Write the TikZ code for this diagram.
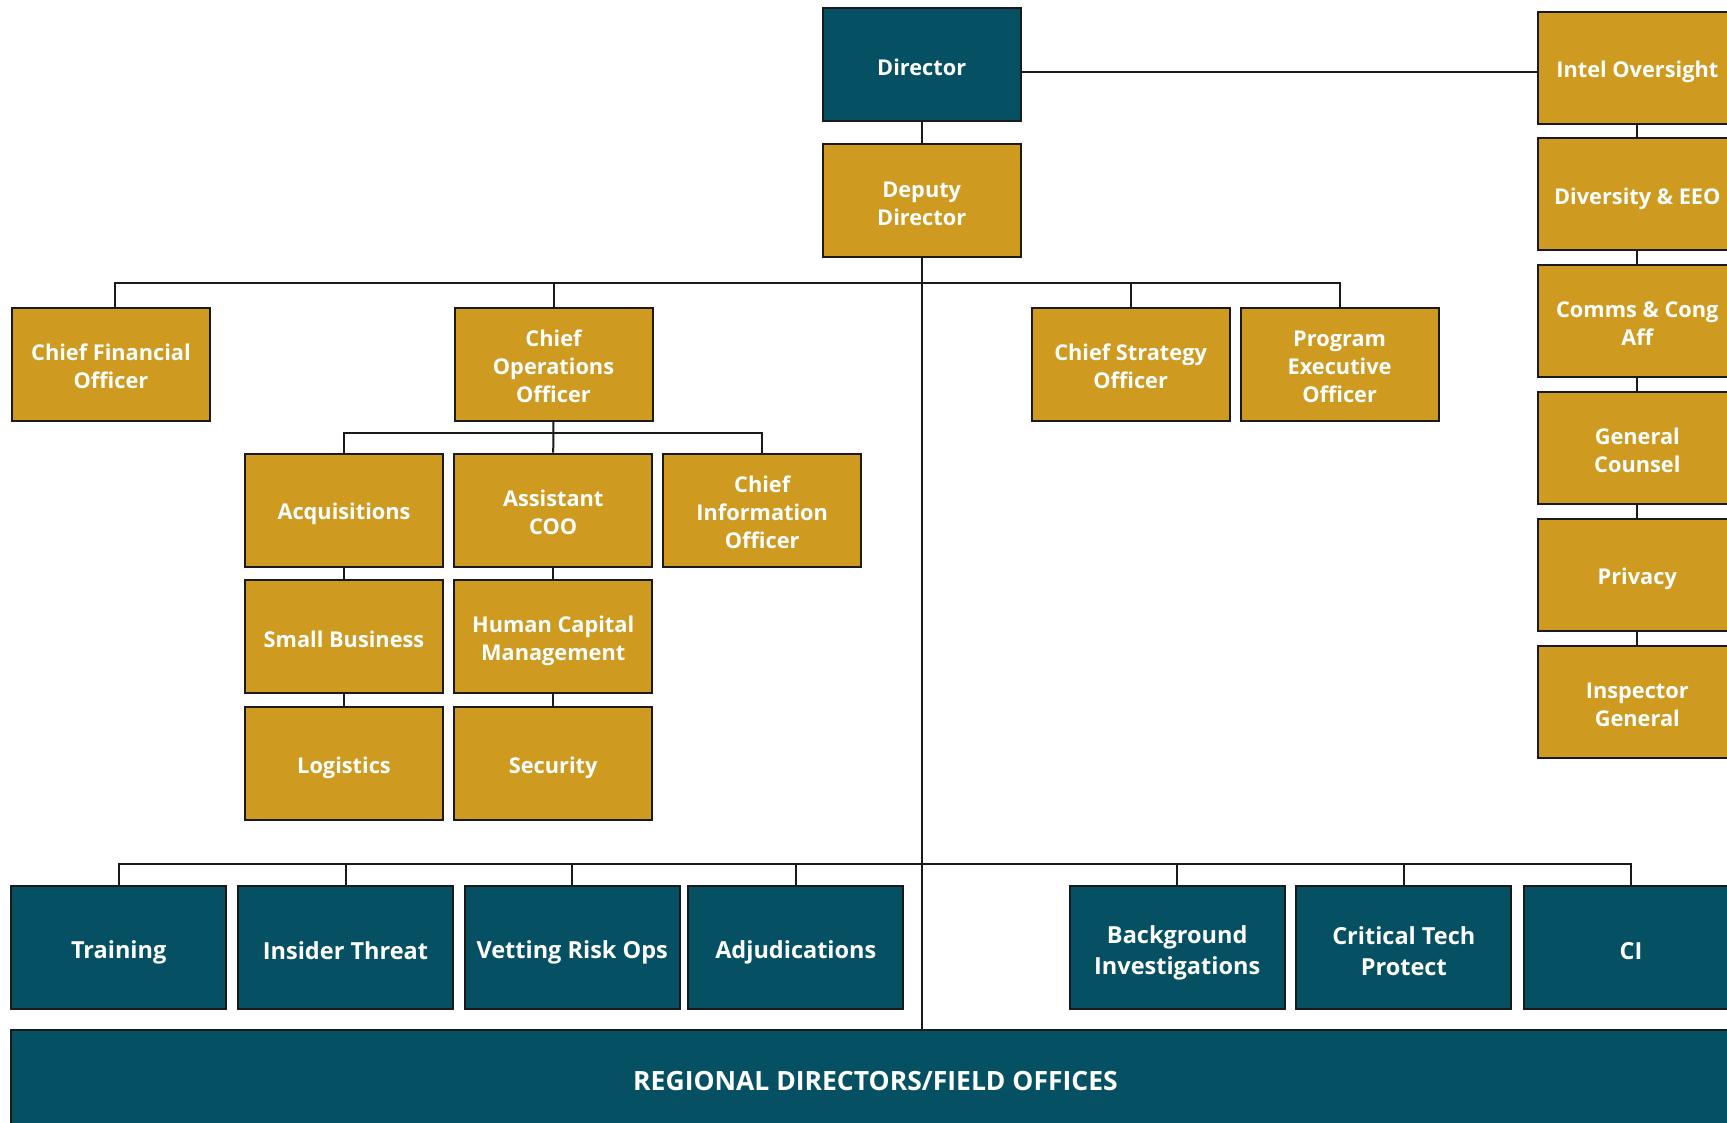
\documentclass[tikz,border=0pt]{standalone}
\usepackage{fontspec}
\setmainfont{Open Sans}
\definecolor{teal}{HTML}{055163}
\definecolor{gold}{HTML}{CF9A20}
\definecolor{edge}{HTML}{1A1A1A}
% invisible rules: height on the first line, depth on the last line,
% so one- and multi-line labels share the same optical centre
\newcommand{\uppertext}[1]{\rule{0pt}{9.85pt}#1\rule[-1.35pt]{0pt}{1.35pt}}
\newcommand{\unittext}[1]{\rule{0pt}{11.05pt}#1\rule[-1.25pt]{0pt}{1.25pt}}
\begin{document}
\begin{tikzpicture}[x=0.4pt,y=-0.4pt,
  box/.style={draw=edge, line width=0.8pt, text=white, align=center, inner sep=0pt},
  upper/.style={box, font=\fontsize{8.7}{11.2}\selectfont\bfseries},
  goldbox/.style={upper, fill=gold, minimum width=79.2pt, minimum height=45.2pt},
  tealbox/.style={upper, fill=teal, minimum width=79.2pt, minimum height=45.2pt},
  sidebox/.style={upper, fill=gold, minimum width=79.2pt, minimum height=44.8pt},
  unitbox/.style={box, fill=teal, minimum width=86pt, minimum height=49.2pt,
    font=\fontsize{9.4}{12.3}\selectfont\bfseries},
  link/.style={draw=edge, line width=0.8pt}]
\useasboundingbox (0,0) rectangle (1727,1122);
\clip (0,0) rectangle (1727,1122);
\fill[white] (0,0) rectangle (1727,1122);

% front office
\node[tealbox] (dir) at (921.7,64.7) {\uppertext{Director}};
\node[goldbox] (dep) at (921.7,200.4) {\uppertext{Deputy\\Director}};

% chiefs
\node[goldbox] (cfo) at (111,364) {\uppertext{Chief Financial\\Officer}};
\node[goldbox] (coo) at (553.5,364) {\uppertext{Chief\\Operations\\Officer}};
\node[goldbox] (cso) at (1130.6,364) {\uppertext{Chief Strategy\\Officer}};
\node[goldbox] (peo) at (1339.6,364) {\uppertext{Program\\Executive\\Officer}};

% operations
\node[goldbox] (acq) at (344,510.2) {\uppertext{Acquisitions}};
\node[goldbox] (acoo) at (553.2,510.2) {\uppertext{Assistant\\COO}};
\node[goldbox] (cio) at (762.2,510.2) {\uppertext{Chief\\Information\\Officer}};
\node[goldbox] (sb) at (344,636.5) {\uppertext{Small Business}};
\node[goldbox] (hcm) at (553.2,636.5) {\uppertext{Human Capital\\Management}};
\node[goldbox] (log) at (344,763.7) {\uppertext{Logistics}};
\node[goldbox] (sec) at (553.2,763.7) {\uppertext{Security}};

% staff offices
\node[sidebox] (io) at (1637.3,67.8) {\uppertext{Intel Oversight}};
\node[sidebox] (eeo) at (1637.3,194.4) {\uppertext{Diversity \& EEO}};
\node[sidebox] (cca) at (1637.3,321.1) {\uppertext{Comms \& Cong\\Aff}};
\node[sidebox] (gc) at (1637.3,447.8) {\uppertext{General\\Counsel}};
\node[sidebox] (priv) at (1637.3,574.5) {\uppertext{Privacy}};
\node[sidebox] (ig) at (1637.3,701.6) {\uppertext{Inspector\\General}};

% mission units
\node[unitbox] (trn) at (118.7,947.7) {\unittext{Training}};
\node[unitbox] (ins) at (345.5,947.7) {\unittext{Insider Threat}};
\node[unitbox] (vro) at (572.2,947.7) {\unittext{Vetting Risk Ops}};
\node[unitbox] (adj) at (795.8,947.7) {\unittext{Adjudications}};
\node[unitbox] (bi) at (1177.2,947.7) {\unittext{Background\\Investigations}};
\node[unitbox] (ctp) at (1403.8,947.7) {\unittext{Critical Tech\\Protect}};
\node[unitbox] (ci) at (1631,947.7) {\unittext{CI}};

% field offices
\node[box, fill=teal, minimum width=694pt, minimum height=46pt,
  anchor=north west] (rd) at (10,1029) {};
\node[text=white, inner sep=0pt, anchor=base,
  font=\fontsize{10.6}{12}\selectfont\bfseries] (rdlabel) at (875.5,1090)
  {REGIONAL DIRECTORS/FIELD OFFICES};

% bus levels
\coordinate (bus0) at (0,71.6);
\coordinate (bus1) at (0,283.3);
\coordinate (bus2) at (0,433.3);
\coordinate (bus3) at (0,864.3);
\coordinate (cfotap) at ([xshift=1.6pt]cfo.north);

% connectors
\draw[link] (dir) -- (dep);
\draw[link] (dir.east |- bus0) -- (io.west |- bus0);
\draw[link] (dep.south) -- (dep.south |- rd.north);
\draw[link] (cfotap) -- (cfotap |- bus1) -- (peo.north |- bus1) -- (peo.north);
\draw[link] (coo.north) -- (coo.north |- bus1);
\draw[link] (cso.north) -- (cso.north |- bus1);
\draw[link] (acq.north) -- (acq.north |- bus2) -- (cio.north |- bus2) -- (cio.north);
\draw[link] (coo.south) -- (acoo.north);
\draw[link] (acq) -- (sb);
\draw[link] (sb) -- (log);
\draw[link] (acoo) -- (hcm);
\draw[link] (hcm) -- (sec);
\draw[link] (io) -- (eeo);
\draw[link] (eeo) -- (cca);
\draw[link] (cca) -- (gc);
\draw[link] (gc) -- (priv);
\draw[link] (priv) -- (ig);
\draw[link] (trn.north) -- (trn.north |- bus3) -- (ci.north |- bus3) -- (ci.north);
\draw[link] (ins.north) -- (ins.north |- bus3);
\draw[link] (vro.north) -- (vro.north |- bus3);
\draw[link] (adj.north) -- (adj.north |- bus3);
\draw[link] (bi.north) -- (bi.north |- bus3);
\draw[link] (ctp.north) -- (ctp.north |- bus3);
\end{tikzpicture}
\end{document}
